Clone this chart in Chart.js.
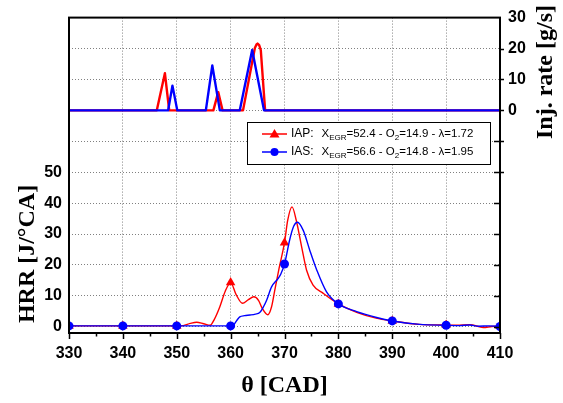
<!DOCTYPE html>
<html>
<head>
<meta charset="utf-8">
<script src="https://cdn.jsdelivr.net/npm/chart.js@4"></script>
<style>
  html, body { margin: 0; padding: 0; background: #fff; }
  canvas { display: block; }
</style>
</head>
<body>
<canvas id="hrr" width="563" height="403"></canvas>
<script>
// heat release rate [J/°CA] vs crank angle, IAP strategy
const iapTheta = [330, 340, 350, 351.2, 352.5, 353.7, 355, 356.2, 357, 358, 359, 360, 361, 362.2, 363.3, 364.3, 365.2, 365.8, 366.9, 367.6, 368.2, 369, 370, 370.6, 371.4, 372.2, 373.2, 374.1, 375.3, 377.2, 380, 383.4, 387, 390, 395, 400, 402, 404.4, 406.9, 408.5, 410];
const iapHrr   = [0.3, 0.3, 0.3, 0.4, 1.1, 1.5, 1.0, 0.5, 2.5, 6.5, 11.5, 14.3, 10.5, 7.6, 8.8, 9.7, 8.5, 6.2, 3.9, 6.5, 11.9, 19, 27.2, 34.5, 38.8, 34.3, 25.7, 18.3, 13.5, 10.8, 7.4, 4.7, 2.8, 1.9, 0.8, 0.6, 0.5, 0.7, -0.2, 0.1, 0.2];

// same for IAS strategy
const iasTheta = [330, 340, 350, 360, 360.5, 361.2, 361.7, 362.6, 363.6, 364.6, 365.4, 366.1, 366.7, 367.6, 368.8, 369.3, 370, 371, 371.7, 372.4, 373.5, 374.7, 376, 377.8, 380, 383.4, 387.1, 390, 395.1, 400, 402.5, 404.4, 406, 408, 410];
const iasHrr   = [0.3, 0.3, 0.3, 0.3, 0.5, 2.2, 3.2, 3.6, 3.8, 4.1, 4.6, 6.5, 8.7, 12.9, 15.6, 17, 20.3, 28.4, 32.5, 33.8, 31.1, 24.7, 18.3, 11.3, 7.4, 4.9, 3.0, 1.9, 0.8, 0.5, 0.4, 0.6, 0.2, 0.3, 0.1];

// injection rate [g/s]
const iapInjTheta = [330, 346.3, 347.8, 348.6, 356.8, 357.7, 358.5, 362.3, 364.5, 364.8, 365.0, 365.3, 365.6, 366.4, 410];
const iapInj      = [0, 0, 12, 0, 0, 5.9, 0, 0, 20.2, 21.3, 21.6, 21.1, 19.5, 0, 0];
const iasInjTheta = [330, 348.4, 349.2, 350.1, 355.4, 356.6, 358.0, 361.7, 364.0, 366.2, 410];
const iasInj      = [0, 0, 8, 0, 0, 14.5, 0, 0, 19.5, 0, 0];

const hrrLabels = [0, 10, 20, 30, 40, 50];
const injLabels = [0, 10, 20, 30];

const RED = '#ff0000';
const BLUE = '#0000ff';
const GRID = '#808080';
const SANS = '"Liberation Sans", Arial, sans-serif';
const SERIF = '"Liberation Serif", "Times New Roman", serif';

function toPoints(xs, ys) {
    return xs.map((x, i) => ({ x: x, y: ys[i] }));
}

// markers only every 10 CAD
function markerSize(r) {
    return ctx => (ctx.raw && ctx.raw.x % 10 === 0 ? r : 0);
}

Chart.defaults.font.family = SANS;

const decor = {
    id: 'decor',
    afterDraw(chart) {
        const ctx = chart.ctx;
        const a = chart.chartArea;
        const sx = chart.scales.x, sy = chart.scales.y, sy2 = chart.scales.y2;
        ctx.save();
        ctx.strokeStyle = '#000';
        ctx.fillStyle = '#000';

        // tick marks
        ctx.lineWidth = 1.5;
        ctx.beginPath();
        for (let v = 330; v <= 410; v += 5) {
            const px = Math.round(sx.getPixelForValue(v)) + 0.5;
            ctx.moveTo(px, a.bottom);
            ctx.lineTo(px, a.bottom + (v % 10 === 0 ? 6 : 3.5));
        }
        for (let v = 0; v <= 60; v += 10) {
            const py = Math.round(sy.getPixelForValue(v)) + 0.5;
            ctx.moveTo(a.right, py);
            ctx.lineTo(a.right - 6, py);
        }
        for (let v = -20; v <= 20; v += 10) {
            const py = Math.round(sy2.getPixelForValue(v)) + 0.5;
            ctx.moveTo(a.right, py);
            ctx.lineTo(a.right + 4, py);
        }
        ctx.stroke();

        // frame
        ctx.lineWidth = 2;
        ctx.strokeRect(a.left, a.top, a.right - a.left, a.bottom - a.top);

        // axis titles
        ctx.font = 'bold 24px ' + SERIF;
        ctx.textAlign = 'center';
        ctx.textBaseline = 'middle';
        ctx.fillText('θ [CAD]', (a.left + a.right) / 2, 386);

        ctx.save();
        ctx.translate(28, 254);
        ctx.rotate(-Math.PI / 2);
        ctx.fillText('HRR [J/°CA]', 0, 0);
        ctx.restore();

        ctx.save();
        ctx.translate(546, 72);
        ctx.rotate(-Math.PI / 2);
        ctx.fillText('Inj. rate [g/s]', 0, 0);
        ctx.restore();

        // legend box
        ctx.fillStyle = '#fff';
        ctx.fillRect(247, 122, 243, 42);
        ctx.lineWidth = 1;
        ctx.strokeStyle = '#000';
        ctx.strokeRect(247.5, 122.5, 243, 42);

        const rows = [
            { color: RED, marker: 'triangle', name: 'IAP:', parts: [['X'], ['EGR', 1], ['=52.4 - O'], ['2', 1], ['=14.9 - λ=1.72']], y: 134 },
            { color: BLUE, marker: 'circle', name: 'IAS:', parts: [['X'], ['EGR', 1], ['=56.6 - O'], ['2', 1], ['=14.8 - λ=1.95']], y: 152 }
        ];
        rows.forEach(r => {
            ctx.strokeStyle = r.color;
            ctx.fillStyle = r.color;
            ctx.lineWidth = 1.5;
            ctx.beginPath();
            ctx.moveTo(262, r.y);
            ctx.lineTo(287, r.y);
            ctx.stroke();
            ctx.beginPath();
            if (r.marker === 'circle') {
                ctx.arc(274.5, r.y, 4, 0, Math.PI * 2);
            } else {
                ctx.moveTo(274.5, r.y - 5);
                ctx.lineTo(279.5, r.y + 3.5);
                ctx.lineTo(269.5, r.y + 3.5);
                ctx.closePath();
            }
            ctx.fill();

            ctx.fillStyle = '#000';
            ctx.textAlign = 'left';
            ctx.textBaseline = 'middle';
            ctx.font = '12px ' + SANS;
            ctx.fillText(r.name, 291, r.y);
            let x = 321.5;
            r.parts.forEach(p => {
                ctx.font = (p[1] ? '8px ' : '11.5px ') + SANS;
                ctx.fillText(p[0], x, r.y + (p[1] ? 3.5 : 0));
                x += ctx.measureText(p[0]).width;
            });
        });
        ctx.restore();
    }
};

new Chart(document.getElementById('hrr'), {
    type: 'line',
    data: {
        datasets: [
            {
                label: 'IAP inj',
                data: toPoints(iapInjTheta, iapInj),
                yAxisID: 'y2',
                borderColor: RED,
                borderWidth: 2.4,
                borderJoinStyle: 'round',
                pointRadius: 0,
                tension: 0,
                order: 2
            },
            {
                label: 'IAS inj',
                data: toPoints(iasInjTheta, iasInj),
                yAxisID: 'y2',
                borderColor: BLUE,
                borderWidth: 2.4,
                borderJoinStyle: 'round',
                pointRadius: 0,
                tension: 0,
                order: 1
            },
            {
                label: 'IAP',
                data: toPoints(iapTheta, iapHrr),
                yAxisID: 'y',
                borderColor: RED,
                backgroundColor: RED,
                borderWidth: 1.4,
                cubicInterpolationMode: 'monotone',
                pointStyle: 'triangle',
                pointRadius: markerSize(5.5),
                pointBorderWidth: 0,
                order: 2
            },
            {
                label: 'IAS',
                data: toPoints(iasTheta, iasHrr),
                yAxisID: 'y',
                borderColor: BLUE,
                backgroundColor: BLUE,
                borderWidth: 1.4,
                cubicInterpolationMode: 'monotone',
                pointStyle: 'circle',
                pointRadius: markerSize(4.5),
                pointBorderWidth: 0,
                order: 1
            }
        ]
    },
    options: {
        responsive: false,
        animation: false,
        layout: { padding: { top: 14, left: 0, right: 0, bottom: 0 } },
        plugins: {
            legend: { display: false },
            tooltip: { enabled: false }
        },
        scales: {
            x: {
                type: 'linear',
                min: 330,
                max: 410,
                afterFit: s => { s.height = 70; },
                ticks: {
                    stepSize: 10,
                    maxRotation: 0,
                    padding: 11,
                    color: '#000',
                    font: { size: 16, weight: 'bold' }
                },
                grid: {
                    drawTicks: false,
                    color: c => (c.tick && c.tick.value > 330 && c.tick.value < 410 ? GRID : 'transparent')
                },
                border: { display: false, dash: [1, 2] }
            },
            y: {
                position: 'left',
                min: -2,
                max: 100,
                afterFit: s => { s.width = 69; },
                ticks: {
                    stepSize: 10,
                    includeBounds: false,
                    padding: 7,
                    color: '#000',
                    font: { size: 16, weight: 'bold' },
                    callback: v => (hrrLabels.includes(v) ? v : '')
                },
                grid: {
                    drawTicks: false,
                    color: c => (c.tick && c.tick.value >= 0 && c.tick.value <= 90 ? GRID : 'transparent')
                },
                border: { display: false, dash: [1, 2] }
            },
            y2: {
                position: 'right',
                min: -72,
                max: 30,
                afterFit: s => { s.width = 63; },
                ticks: {
                    stepSize: 10,
                    includeBounds: false,
                    padding: 8,
                    color: '#000',
                    font: { size: 16, weight: 'bold' },
                    callback: v => (injLabels.includes(v) ? v : '')
                },
                grid: { drawOnChartArea: false, drawTicks: false },
                border: { display: false }
            }
        }
    },
    plugins: [decor]
});
</script>
</body>
</html>
